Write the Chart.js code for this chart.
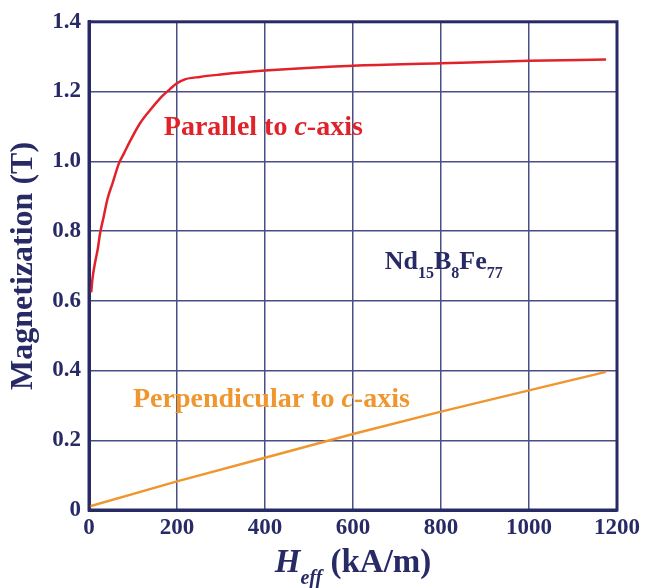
<!DOCTYPE html>
<html>
<head>
<meta charset="utf-8">
<script src="https://cdn.jsdelivr.net/npm/chart.js@4"></script>
<style>
  html, body { margin: 0; padding: 0; background: #fff; }
  #wrap { width: 645px; height: 588px; }
</style>
</head>
<body>
<div id="wrap"><canvas id="chart"></canvas></div>
<script>
// field H_eff (kA/m) and magnetization (T)
const parallelH = [5, 8, 14, 20, 25, 33, 42, 54, 68, 80, 93, 116, 139, 161, 184, 199, 218, 252, 294, 400, 600, 800, 1000, 1175];
const parallelM = [0.624, 0.664, 0.711, 0.749, 0.792, 0.839, 0.892, 0.939, 0.994, 1.024, 1.057, 1.109, 1.147, 1.18, 1.207, 1.223, 1.235, 1.242, 1.248, 1.26, 1.274, 1.281, 1.288, 1.292];
const perpH = [0, 200, 400, 600, 800, 1000, 1175];
const perpM = [0.01, 0.082, 0.15, 0.218, 0.282, 0.343, 0.396];
const xTicks = [0, 200, 400, 600, 800, 1000, 1200];
const yTicks = [0, 0.2, 0.4, 0.6, 0.8, 1.0, 1.2, 1.4];

const NAVY = '#282a66';
const GRID = '#4b4d85';
const RED = '#e0232a';
const ORANGE = '#f0962f';
const SERIF = '"Liberation Serif", "DejaVu Serif", serif';

const toPoints = (xs, ys) => xs.map((x, i) => ({ x: x, y: ys[i] }));

// draw a run of text pieces: [text, size, italic, dy]
function drawRun(ctx, x, y, pieces, color) {
  ctx.fillStyle = color;
  ctx.textBaseline = 'alphabetic';
  ctx.textAlign = 'left';
  pieces.forEach(p => {
    ctx.font = (p[2] ? 'italic ' : '') + 'bold ' + p[1] + 'px ' + SERIF;
    ctx.fillText(p[0], x, y + (p[3] || 0));
    x += ctx.measureText(p[0]).width;
  });
}

function runWidth(ctx, pieces) {
  let w = 0;
  pieces.forEach(p => {
    ctx.font = (p[2] ? 'italic ' : '') + 'bold ' + p[1] + 'px ' + SERIF;
    w += ctx.measureText(p[0]).width;
  });
  return w;
}

const labels = {
  id: 'labels',
  afterDraw(chart) {
    const { ctx, chartArea: a, scales } = chart;
    const xs = scales.x, ys = scales.y;
    ctx.save();

    // plot box
    ctx.strokeStyle = NAVY;
    ctx.lineWidth = 3;
    ctx.strokeRect(a.left, a.top, a.right - a.left, a.bottom - a.top);

    drawRun(ctx, xs.getPixelForValue(170), ys.getPixelForValue(1.075),
      [['Parallel to ', 28], ['c', 28, true], ['-axis', 28]], RED);

    drawRun(ctx, xs.getPixelForValue(672), ys.getPixelForValue(0.69),
      [['Nd', 26], ['15', 16, false, 9], ['B', 26], ['8', 16, false, 9], ['Fe', 26], ['77', 16, false, 9]], NAVY);

    drawRun(ctx, xs.getPixelForValue(100), ys.getPixelForValue(0.295),
      [['Perpendicular to ', 28], ['c', 28, true], ['-axis', 28]], ORANGE);

    // x title
    const xt = [['H', 33, true], ['eff', 20, true, 12], [' (kA/m)', 33]];
    const cx = (a.left + a.right) / 2;
    drawRun(ctx, cx - runWidth(ctx, xt) / 2, 572, xt, NAVY);

    // y title
    ctx.translate(24, (a.top + a.bottom) / 2);
    ctx.rotate(-Math.PI / 2);
    ctx.font = 'bold 32px ' + SERIF;
    ctx.textAlign = 'center';
    ctx.textBaseline = 'middle';
    ctx.fillStyle = NAVY;
    ctx.fillText('Magnetization (T)', 0, 0);
    ctx.restore();
  }
};

new Chart(document.getElementById('chart'), {
  type: 'line',
  data: {
    datasets: [{
      label: 'Parallel to c-axis',
      data: toPoints(parallelH, parallelM),
      borderColor: RED,
      borderWidth: 2.5,
      pointRadius: 0,
      cubicInterpolationMode: 'monotone',
      fill: false
    }, {
      label: 'Perpendicular to c-axis',
      data: toPoints(perpH, perpM),
      borderColor: ORANGE,
      borderWidth: 2.5,
      pointRadius: 0,
      tension: 0,
      fill: false
    }]
  },
  options: {
    responsive: true,
    maintainAspectRatio: false,
    animation: false,
    layout: { padding: { top: 18, right: 28, left: 0, bottom: 0 } },
    plugins: { legend: { display: false }, tooltip: { enabled: false } },
    scales: {
      x: {
        type: 'linear',
        min: 0, max: 1200,
        afterBuildTicks: s => { s.ticks = xTicks.map(v => ({ value: v })); },
        afterFit: s => { s.height = 78; },
        ticks: {
          color: NAVY, padding: 4,
          font: { family: SERIF, size: 23, weight: 'bold' },
          callback: v => String(v)
        },
        grid: { color: GRID, lineWidth: 1.5, drawTicks: false },
        border: { color: NAVY, width: 3 }
      },
      y: {
        min: 0, max: 1.4,
        afterBuildTicks: s => { s.ticks = yTicks.map(v => ({ value: v })); },
        afterFit: s => { s.width = 89; },
        ticks: {
          color: NAVY, padding: 8,
          font: { family: SERIF, size: 23, weight: 'bold' },
          callback: v => v === 0 ? '0' : v.toFixed(1)
        },
        grid: { color: GRID, lineWidth: 1.5, drawTicks: false },
        border: { color: NAVY, width: 3 }
      }
    }
  },
  plugins: [labels]
});
</script>
</body>
</html>
